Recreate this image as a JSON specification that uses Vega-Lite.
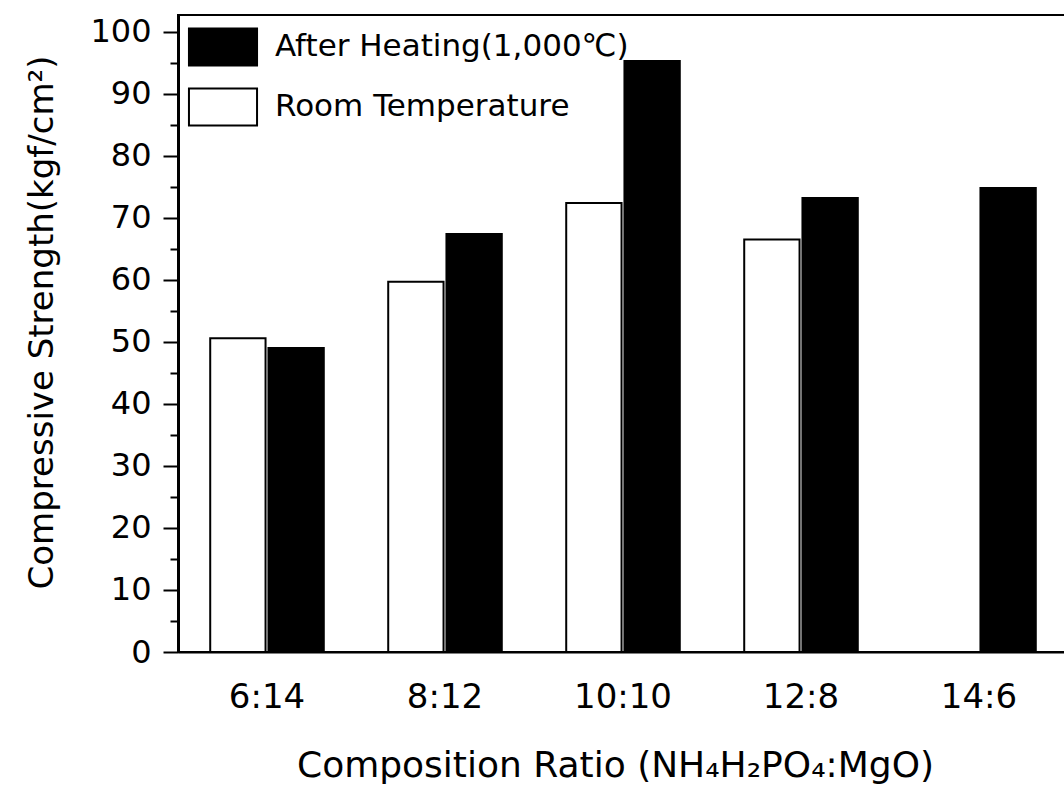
{
  "$schema": "https://vega.github.io/schema/vega-lite/v6.json",
  "autosize": "none",
  "padding": {"left": 178, "top": 15, "right": 0, "bottom": 135},
  "width": 890,
  "height": 637,
  "background": "white",
  "config": {
    "font": "DejaVu Sans",
    "view": {"stroke": "black", "strokeWidth": 2}
  },
  "data": {
    "values": [
      {"ratio": "6:14", "condition": "Room Temperature", "strength": 50.6},
      {"ratio": "6:14", "condition": "After Heating(1,000℃)", "strength": 49.0},
      {"ratio": "8:12", "condition": "Room Temperature", "strength": 59.7},
      {"ratio": "8:12", "condition": "After Heating(1,000℃)", "strength": 67.4},
      {"ratio": "10:10", "condition": "Room Temperature", "strength": 72.4},
      {"ratio": "10:10", "condition": "After Heating(1,000℃)", "strength": 95.3},
      {"ratio": "12:8", "condition": "Room Temperature", "strength": 66.5},
      {"ratio": "12:8", "condition": "After Heating(1,000℃)", "strength": 73.2},
      {"ratio": "14:6", "condition": "After Heating(1,000℃)", "strength": 74.8}
    ]
  },
  "mark": {"type": "bar", "stroke": "black", "strokeWidth": 2},
  "encoding": {
    "x": {
      "field": "ratio",
      "type": "nominal",
      "sort": ["6:14", "8:12", "10:10", "12:8", "14:6"],
      "scale": {"paddingInner": 0.362, "paddingOuter": 0.181},
      "axis": {
        "title": "Composition Ratio (NH₄H₂PO₄:MgO)",
        "titleFontSize": 36,
        "titleFontWeight": "normal",
        "titleColor": "black",
        "titleX": 437,
        "titleY": 113,
        "titleBaseline": "middle",
        "labelAngle": 0,
        "labelFontSize": 34,
        "labelColor": "black",
        "labelPadding": 28,
        "ticks": false,
        "domainColor": "black",
        "domainWidth": 2
      }
    },
    "xOffset": {
      "field": "condition",
      "type": "nominal",
      "sort": ["Room Temperature", "After Heating(1,000℃)"],
      "scale": {"paddingInner": 0.05, "paddingOuter": 0}
    },
    "y": {
      "field": "strength",
      "type": "quantitative",
      "scale": {"domain": [0, 102.7], "nice": false},
      "axis": {
        "title": "Compressive Strength(kgf/cm²)",
        "titleFontSize": 34,
        "titleFontWeight": "normal",
        "titleColor": "black",
        "titleX": -136,
        "titleY": 307,
        "titleBaseline": "middle",
        "values": [0, 5, 10, 15, 20, 25, 30, 35, 40, 45, 50, 55, 60, 65, 70, 75, 80, 85, 90, 95, 100],
        "labelExpr": "datum.value % 10 === 0 ? datum.label : ''",
        "labelFontSize": 32,
        "labelColor": "black",
        "labelPadding": 12,
        "tickSize": {"condition": {"test": "datum.value % 10 !== 0", "value": 8}, "value": 15},
        "tickWidth": 2,
        "tickColor": "black",
        "domainColor": "black",
        "domainWidth": 3,
        "grid": false
      }
    },
    "fill": {
      "field": "condition",
      "type": "nominal",
      "scale": {
        "domain": ["After Heating(1,000℃)", "Room Temperature"],
        "range": ["black", "white"]
      },
      "legend": {
        "title": null,
        "orient": "none",
        "legendX": 25.5,
        "legendY": 12.5,
        "symbolType": "M-1.84,-1 H1.84 V1 H-1.84 Z",
        "symbolSize": 1369,
        "symbolStrokeColor": "black",
        "symbolStrokeWidth": 2,
        "labelFontSize": 31,
        "labelColor": "black",
        "labelOffset": 32.5,
        "rowPadding": 15,
        "labelLimit": 500
      }
    }
  }
}
